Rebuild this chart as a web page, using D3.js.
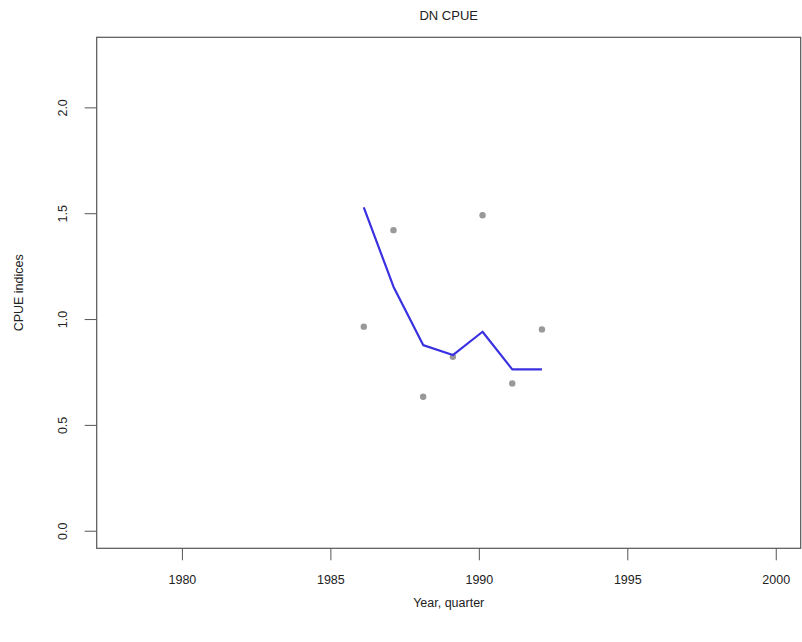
<!DOCTYPE html>
<html>
<head>
<meta charset="utf-8">
<script src="https://cdn.jsdelivr.net/npm/d3@7"></script>
<style>
  html, body { margin: 0; padding: 0; background: #fff; }
  svg { display: block; font-family: "Liberation Sans", Arial, sans-serif; }
</style>
</head>
<body>
<svg id="chart" width="802" height="642"></svg>
<script>
// Observed CPUE indices (points) and fitted index (line) by year-quarter
const years = [1986.125, 1987.125, 1988.125, 1989.125, 1990.125, 1991.125, 1992.125];
const observed = [0.964, 1.420, 0.633, 0.822, 1.490, 0.696, 0.951];
const fitted = [1.528, 1.153, 0.877, 0.830, 0.940, 0.762, 0.762];
const xTicks = [1980, 1985, 1990, 1995, 2000];
const yTicks = [0.0, 0.5, 1.0, 1.5, 2.0];

const svg = d3.select("#chart");
const box = { left: 96.7, right: 800.7, top: 37.3, bottom: 548.3 };

const x = d3.scaleLinear().domain([1977.13, 2000.84]).range([box.left, box.right]);
const y = d3.scaleLinear().domain([-0.083, 2.331]).range([box.bottom, box.top]);

// plot frame
svg.append("rect")
  .attr("x", box.left).attr("y", box.top)
  .attr("width", box.right - box.left).attr("height", box.bottom - box.top)
  .attr("fill", "none").attr("stroke", "#555").attr("stroke-width", 1.2);

// x axis
const xAxis = svg.append("g")
  .attr("transform", `translate(0,${box.bottom})`)
  .call(d3.axisBottom(x).tickValues(xTicks).tickFormat(d3.format("d")).tickSize(12).tickPadding(15));
xAxis.select(".domain").remove();
xAxis.selectAll("line").attr("stroke", "#555");
xAxis.selectAll("text").attr("font-size", 12.5).attr("fill", "#222")
  .attr("font-family", "Liberation Sans, Arial, sans-serif");

// y axis with rotated labels
const yAxis = svg.append("g")
  .attr("transform", `translate(${box.left},0)`)
  .call(d3.axisLeft(y).tickValues(yTicks).tickFormat(d3.format(".1f")).tickSize(12));
yAxis.select(".domain").remove();
yAxis.selectAll("line").attr("stroke", "#555");
yAxis.selectAll("text")
  .attr("font-size", 12.5).attr("fill", "#222")
  .attr("font-family", "Liberation Sans, Arial, sans-serif")
  .attr("text-anchor", "middle")
  .attr("x", 0).attr("dy", 0)
  .attr("transform", "translate(-34,0) rotate(-90)")
  .attr("y", 4);

// titles
svg.append("text")
  .attr("x", (box.left + box.right) / 2).attr("y", 20)
  .attr("text-anchor", "middle").attr("font-size", 13).attr("fill", "#222")
  .text("DN CPUE");
svg.append("text")
  .attr("x", (box.left + box.right) / 2).attr("y", 607)
  .attr("text-anchor", "middle").attr("font-size", 12.5).attr("fill", "#222")
  .text("Year, quarter");
svg.append("text")
  .attr("transform", `translate(23,${(box.top + box.bottom) / 2}) rotate(-90)`)
  .attr("text-anchor", "middle").attr("font-size", 12.5).attr("fill", "#222")
  .text("CPUE indices");

// observed points
svg.append("g").selectAll("circle")
  .data(years.map((t, i) => [t, observed[i]]))
  .join("circle")
  .attr("cx", d => x(d[0])).attr("cy", d => y(d[1]))
  .attr("r", 3.2).attr("fill", "#999");

// fitted line
svg.append("path")
  .datum(years.map((t, i) => [t, fitted[i]]))
  .attr("d", d3.line().x(d => x(d[0])).y(d => y(d[1])))
  .attr("fill", "none").attr("stroke", "#3a32e0").attr("stroke-width", 2.2)
  .attr("stroke-linejoin", "round");
</script>
</body>
</html>
